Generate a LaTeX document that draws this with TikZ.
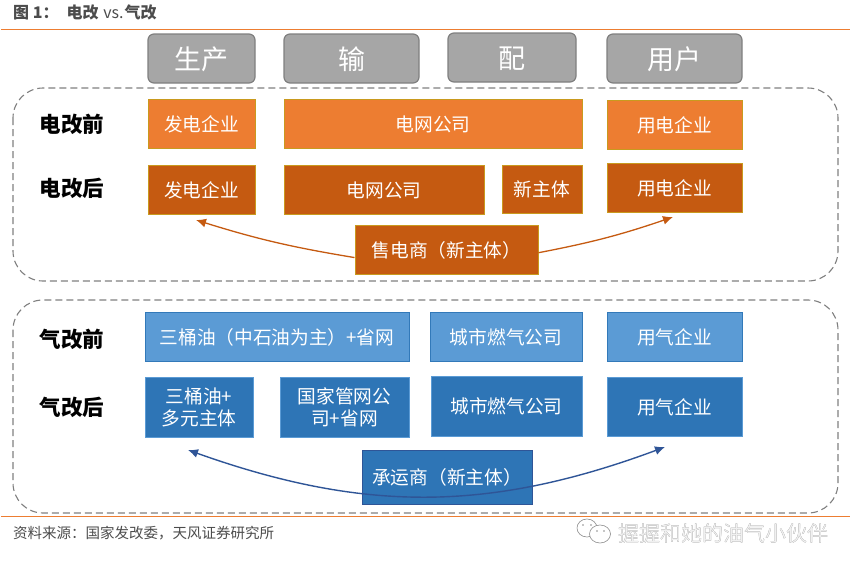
\documentclass[tikz,border=0pt]{standalone}
\usepackage{fontspec}
\setmainfont{Noto Sans CJK SC}
\usetikzlibrary{arrows.meta}
\definecolor{ruleorange}{HTML}{ED7D31}
\definecolor{lightorange}{HTML}{ED7D31}
\definecolor{darkorange}{HTML}{C55A11}
\definecolor{goldline}{HTML}{C99A1E}
\definecolor{lightblue}{HTML}{5B9BD5}
\definecolor{darkblue}{HTML}{2E75B6}
\definecolor{navyline}{HTML}{2F5597}
\definecolor{panelgray}{HTML}{7F7F7F}
\tikzset{
    box/.style={draw, line width=1pt, text=white, align=center, inner sep=0pt,
        text height=18pt, text depth=2.2pt, font=\fontsize{18.7}{22}\selectfont},
    twoline/.style={text height=, text depth=},
    header/.style={box, fill=black!35, draw=panelgray, rounded corners=6pt, line width=1.2pt,
        text height=24pt, text depth=3pt, font=\fontsize{27}{30}\selectfont},
    oldpower/.style={box, fill=lightorange, draw=goldline},
    newpower/.style={box, fill=darkorange, draw=goldline},
    oldgas/.style={box, fill=lightblue, draw=darkblue!90!lightblue},
    newgas/.style={box, fill=darkblue, draw=lightblue},
    panel/.style={draw=panelgray, dash pattern=on 7pt off 4pt, line width=1.1pt, rounded corners=30pt},
    rowlabel/.style={text height=20pt, text depth=2.5pt, font=\fontsize{21.5}{25}\selectfont\bfseries},
    powerarrow/.style={draw=darkorange, line width=1.3pt, -{Latex[length=10pt,width=9pt]}},
    gasarrow/.style={draw=navyline, line width=1.4pt, {Latex[length=10pt,width=9pt]}-{Latex[length=10pt,width=9pt]}},
}
\begin{document}
\begin{tikzpicture}[x=1pt,y=-1pt]
    \useasboundingbox (0,0) rectangle (855,570);

    % Title and rules
    \node[anchor=west, inner sep=0pt, text=black!70, font=\fontsize{16}{18}\selectfont\bfseries] (title) at (13,12.5)
        {图 1：\hspace{8pt}电改\hspace{1pt} {\mdseries vs.}\hspace{1pt}气改};
    \coordinate (ruleAL) at (1,29.5);
    \coordinate (ruleAR) at (850,29.5);
    \coordinate (ruleBL) at (1,516.5);
    \coordinate (ruleBR) at (850,516.5);
    \draw[ruleorange, line width=1pt] (ruleAL) -- (ruleAR);

    % Dashed panels
    \draw[panel] (13,88) rectangle (838,281);
    \draw[panel] (13,300) rectangle (838,513);
    \draw[ruleorange, line width=1pt] (ruleBL) -- (ruleBR);

    % Define nodes
    \node[header, minimum width=107pt, minimum height=49pt] (prod) at (201.5,58.5) {生产};
    \node[header, minimum width=135pt, minimum height=49pt] (trans) at (351.5,58.5) {输};
    \node[header, minimum width=128pt, minimum height=49pt] (dist) at (512,57.5) {配};
    \node[header, minimum width=135pt, minimum height=49pt] (user) at (674.5,58.5) {用户};

    \node[rowlabel] (powerA) at (72,124) {电改前};
    \node[rowlabel] (powerB) at (72,188) {电改后};
    \node[rowlabel] (gasA) at (72,339) {气改前};
    \node[rowlabel] (gasB) at (72,407) {气改后};

    \node[oldpower, minimum width=107pt, minimum height=49pt] (genA) at (201.5,123.5) {发电企业};
    \node[oldpower, minimum width=298pt, minimum height=49pt] (gridA) at (433,123.5) {电网公司};
    \node[oldpower, minimum width=135pt, minimum height=49pt] (useA) at (674.5,124.5) {用电企业};

    \node[newpower, minimum width=107pt, minimum height=49pt] (genB) at (201.5,189.5) {发电企业};
    \node[newpower, minimum width=200pt, minimum height=49pt] (gridB) at (384,189.5) {电网公司};
    \node[newpower, minimum width=80pt, minimum height=48pt] (newB) at (542,189) {新主体};
    \node[newpower, minimum width=135pt, minimum height=49pt] (useB) at (674.5,187.5) {用电企业};
    \node[newpower, minimum width=183pt, minimum height=49pt] (seller) at (446.5,249.5) {售电商（新主体）};

    \node[oldgas, minimum width=264pt, minimum height=49pt] (oilA) at (277,336.5) {三桶油（中石油为主）+省网};
    \node[oldgas, minimum width=152pt, minimum height=49pt] (cityA) at (506,336.5) {城市燃气公司};
    \node[oldgas, minimum width=135pt, minimum height=49pt] (endA) at (674.5,336.5) {用气企业};

    \node[newgas, twoline, minimum width=108pt, minimum height=60pt] (oilB) at (199,407) {三桶油+\\多元主体};
    \node[newgas, twoline, minimum width=129pt, minimum height=60pt] (pipeB) at (344.5,407) {国家管网公\\司+省网};
    \node[newgas, minimum width=151pt, minimum height=60pt] (cityB) at (506.5,406) {城市燃气公司};
    \node[newgas, minimum width=135pt, minimum height=59pt] (endB) at (674.5,406.5) {用气企业};
    \node[newgas, draw=navyline, minimum width=170pt, minimum height=54pt] (carrier) at (447,477) {承运商（新主体）};

    \coordinate (powerL) at (196,220);
    \coordinate (powerR) at (673,217);
    \coordinate (gasL) at (188,450);
    \coordinate (gasR) at (665,447);

    % Draw edges
    \draw[powerarrow] (seller.185) to[bend left=4] (powerL);
    \draw[powerarrow] (seller.358) to[bend right=4] (powerR);
    \draw[gasarrow] (gasL) to[bend right=20] (gasR);

    % Source line and mark
    \node[anchor=west, inner sep=0pt, text=black!70, font=\fontsize{14.5}{17}\selectfont] (source) at (13,533)
        {资料来源：国家发改委，天风证券研究所};

    \draw[black!45, fill=white, line width=.6pt] (587,528) ellipse (10 and 9);
    \draw[black!45, fill=white, line width=.6pt] (600,534) ellipse (10.5 and 9);
    \fill[black!45] (583,525) circle (.9) (591,525) circle (.9) (597,531) circle (.8) (604,531) circle (.8);
    \node[anchor=west, inner sep=0pt, text=black!60, font=\fontsize{21}{25}\selectfont] (markB) at (618.5,533.5) {握握和她的油气小伙伴};
    \node[anchor=west, inner sep=0pt, text=black!6, font=\fontsize{21}{25}\selectfont] (markA) at (618,533) {握握和她的油气小伙伴};
\end{tikzpicture}
\end{document}
